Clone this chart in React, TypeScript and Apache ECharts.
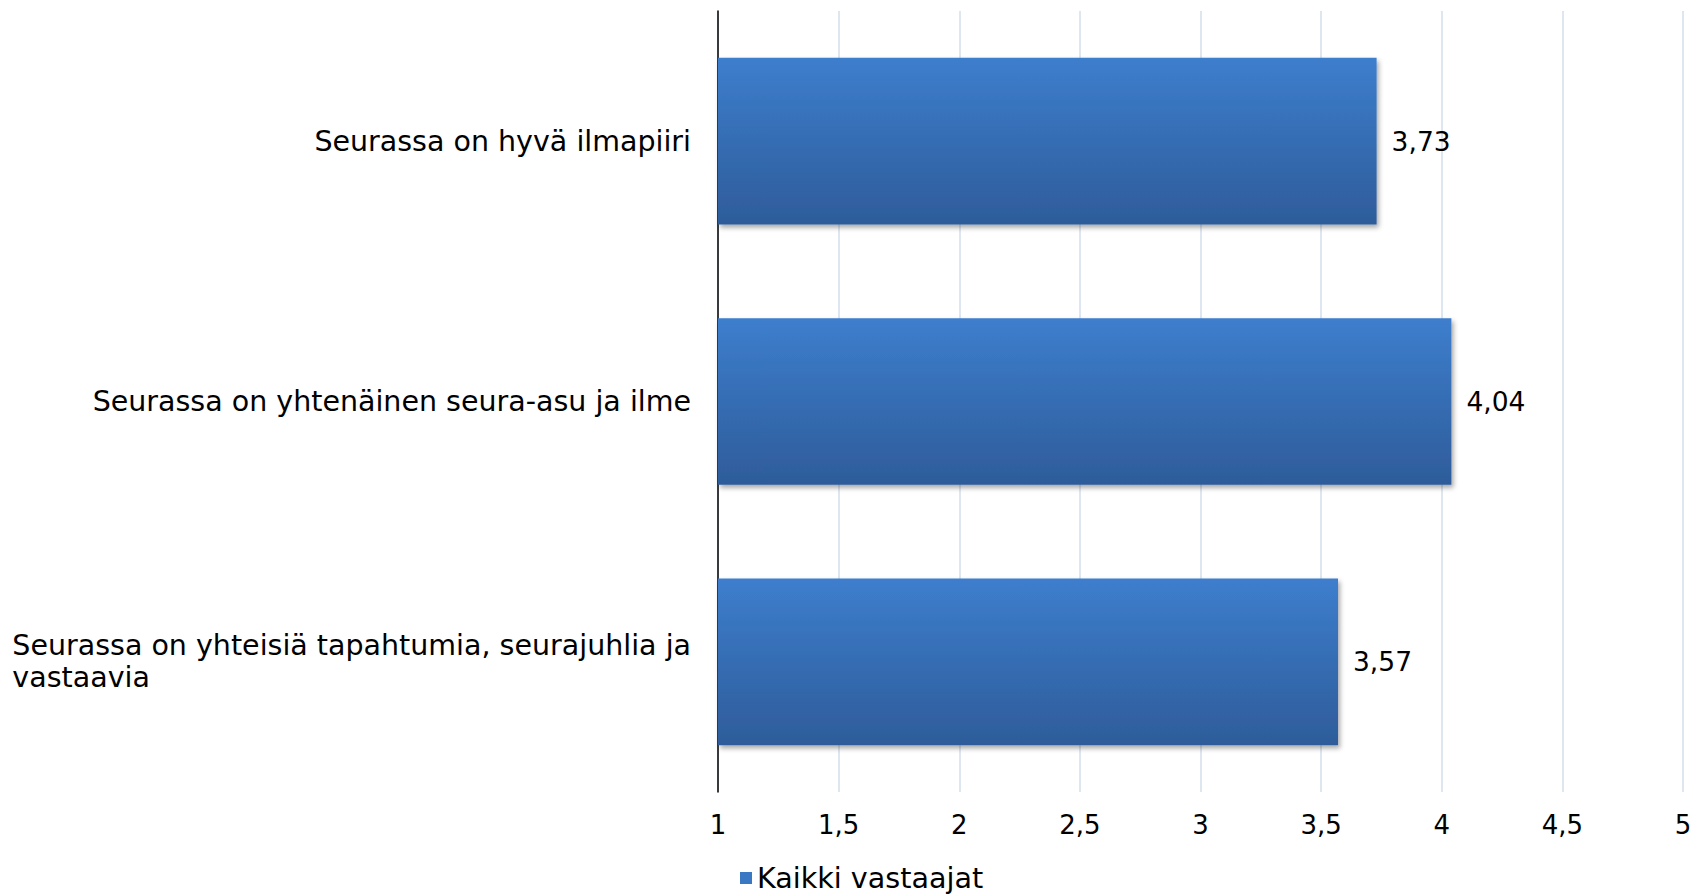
import React, { useEffect, useRef } from "react";
import * as echarts from "echarts";

const categories: string[] = [
  "Seurassa on hyvä ilmapiiri",
  "Seurassa on yhtenäinen seura-asu ja ilme",
  "Seurassa on yhteisiä tapahtumia, seurajuhlia ja vastaavia",
];
const values: number[] = [3.73, 4.04, 3.57];
const seriesName = "Kaikki vastaajat";
const axisMin = 1;
const axisMax = 5;
const axisStep = 0.5;

const FONT = "'DejaVu Sans', 'Liberation Sans', Arial, sans-serif";

function wrapLabel(s: string, maxChars: number): string {
  const words = s.split(" ");
  const lines: string[] = [];
  let cur = "";
  for (const w of words) {
    const next = cur ? cur + " " + w : w;
    if (next.length > maxChars && cur) {
      lines.push(cur);
      cur = w;
    } else {
      cur = next;
    }
  }
  if (cur) lines.push(cur);
  return lines.join("\n");
}

const fmt = (v: number, digits?: number) =>
  (digits === undefined ? String(v) : v.toFixed(digits)).replace(".", ",");

export default function App() {
  const ref = useRef<HTMLDivElement>(null);
  useEffect(() => {
    if (!ref.current) return;
    const chart = echarts.init(ref.current, undefined, { renderer: "svg" });
    chart.setOption({
      animation: false,
      backgroundColor: "#ffffff",
      grid: { left: 718, right: 22, top: 11, bottom: 103, containLabel: false },
      legend: {
        data: [{ name: seriesName, itemStyle: { color: "#3A78C4" } }],
        left: 740,
        top: 862,
        padding: 0,
        icon: "rect",
        itemWidth: 12,
        itemHeight: 12,
        itemGap: 10,
        textStyle: {
          fontFamily: FONT,
          fontSize: 28.6,
          lineHeight: 32,
          color: "#000",
        },
      },
      xAxis: {
        type: "value",
        min: axisMin,
        max: axisMax,
        interval: axisStep,
        axisLine: { show: false },
        axisTick: { show: false },
        splitLine: { show: true, lineStyle: { color: "#D3DEEB", width: 1.5 } },
        axisLabel: {
          margin: 20,
          fontFamily: FONT,
          fontSize: 26,
          color: "#000",
          formatter: (v: number) => fmt(v),
        },
      },
      yAxis: {
        type: "category",
        data: categories,
        inverse: true,
        axisLine: { show: true, lineStyle: { color: "#000", width: 1.5 } },
        axisTick: { show: false },
        splitLine: { show: false },
        axisLabel: {
          margin: 27,
          formatter: (v: string) => "{l|" + wrapLabel(v, 48) + "}",
          rich: {
            l: {
              align: "left",
              fontFamily: FONT,
              fontSize: 28.5,
              lineHeight: 32,
              color: "#000",
            },
          },
        },
      },
      series: [
        {
          name: seriesName,
          type: "bar",
          data: values,
          barWidth: "64%",
          itemStyle: {
            color: new echarts.graphic.LinearGradient(0, 0, 0, 1, [
              { offset: 0, color: "#3D7ECD" },
              { offset: 1, color: "#2E5C9A" },
            ]),
            shadowColor: "rgba(0,0,0,0.35)",
            shadowBlur: 5,
            shadowOffsetX: 2,
            shadowOffsetY: 3,
          },
          label: {
            show: true,
            position: "right",
            distance: 15,
            fontFamily: FONT,
            fontSize: 26.5,
            color: "#000",
            formatter: (p: any) => fmt(p.value, 2),
          },
        },
      ],
    });
    return () => chart.dispose();
  }, []);
  return (
    <div
      ref={ref}
      style={{ position: "absolute", left: 0, top: 0, width: 1705, height: 895 }}
    />
  );
}
